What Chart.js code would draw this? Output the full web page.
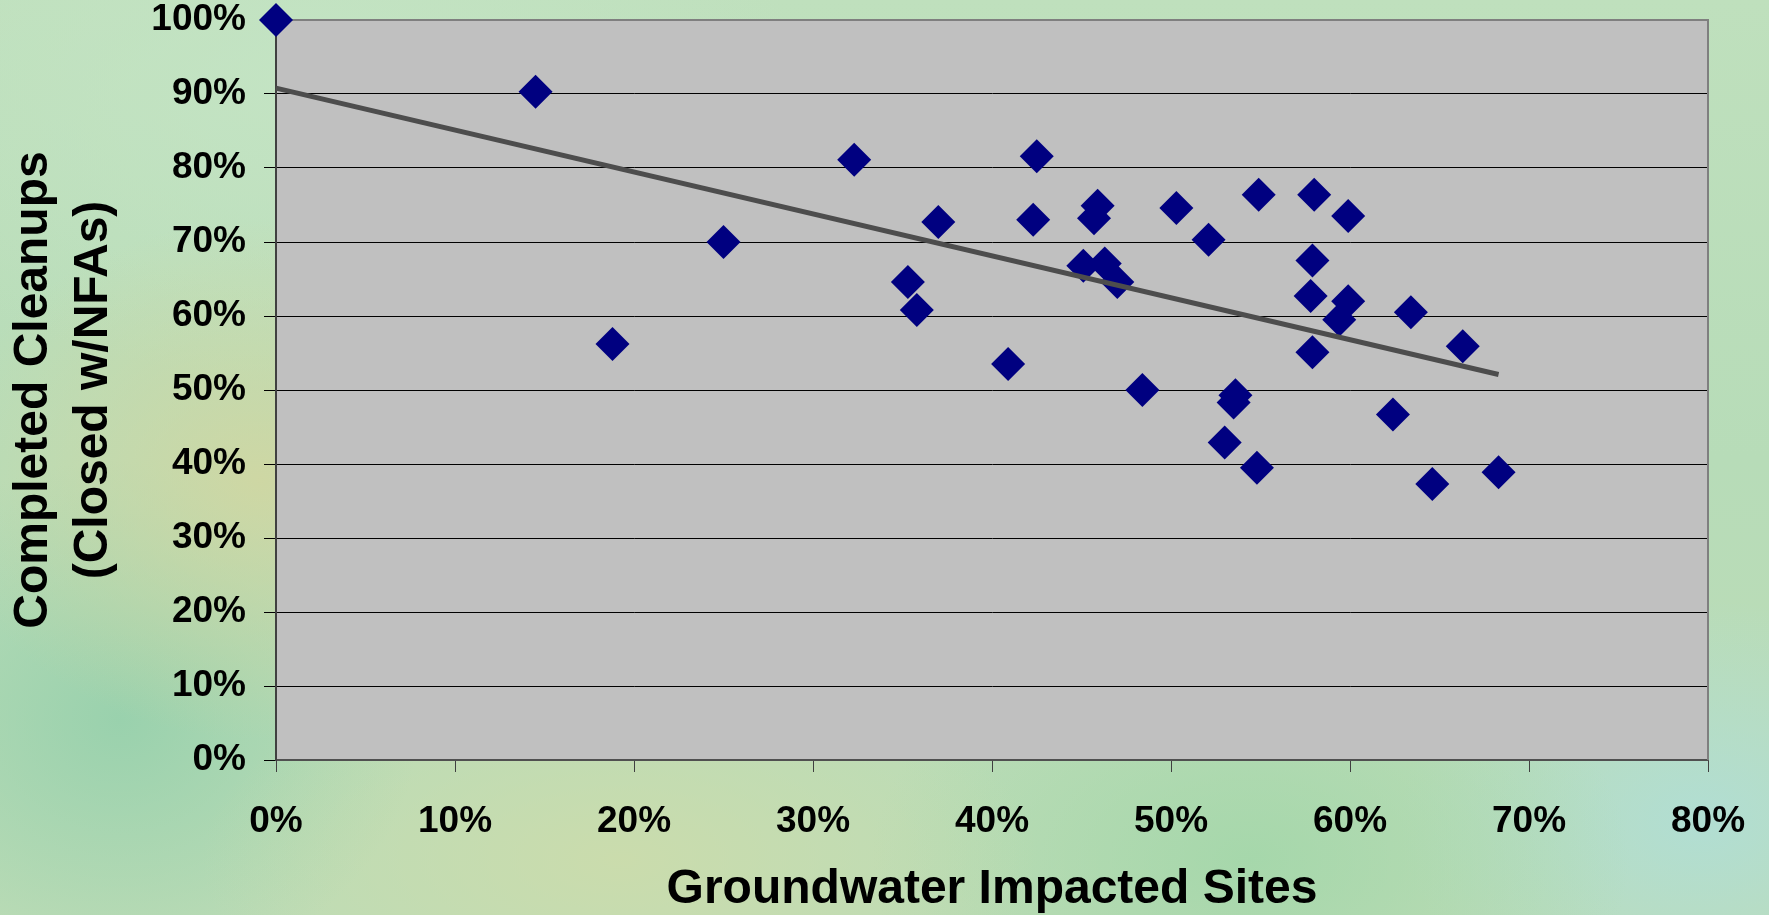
<!DOCTYPE html>
<html>
<head>
<meta charset="utf-8">
<script src="https://cdn.jsdelivr.net/npm/chart.js@4.4.1/dist/chart.umd.min.js"></script>
<style>
  html, body { margin: 0; padding: 0; }
  body {
    width: 1769px; height: 915px; overflow: hidden;
    background:
      radial-gradient(ellipse 320px 260px at 260px 480px, rgba(210,214,160,0.85), rgba(210,214,160,0) 100%),
      radial-gradient(ellipse 420px 200px at 620px 860px, rgba(206,220,170,0.8), rgba(206,220,170,0) 100%),
      radial-gradient(ellipse 300px 260px at 120px 720px, rgba(150,208,172,0.9), rgba(150,208,172,0) 100%),
      radial-gradient(ellipse 380px 240px at 1250px 860px, rgba(160,214,168,0.8), rgba(160,214,168,0) 100%),
      radial-gradient(ellipse 300px 220px at 1700px 820px, rgba(176,222,214,0.9), rgba(176,222,214,0) 100%),
      radial-gradient(ellipse 500px 300px at 300px 80px, rgba(196,228,196,0.9), rgba(196,228,196,0) 100%),
      linear-gradient(180deg, #bfe0bd 0%, #b7dcb8 50%, #bddcb6 100%);
  }
  #wrap { position: absolute; left: 0; top: 0; width: 1769px; height: 915px; }
</style>
</head>
<body>
<div id="wrap"><canvas id="c" width="1769" height="915"></canvas></div>
<script>
// Groundwater impacted sites (%) vs completed cleanups (%)
const groundwaterPct = [0, 14.5, 18.8, 25.0, 32.3, 35.3, 35.8, 37.0, 40.9, 42.5, 42.3, 45.1, 45.7, 45.9, 46.3, 47.0, 48.4, 50.3, 52.1, 53.0, 53.5, 53.6, 54.8, 54.9, 57.8, 57.9, 57.9, 58.0, 59.4, 59.9, 59.9, 62.4, 63.4, 64.6, 66.3, 68.3];
const cleanupPct     = [100, 90.3, 56.2, 70.0, 81.1, 64.6, 60.8, 72.7, 53.5, 81.6, 73.0, 66.8, 73.2, 74.9, 67.1, 64.6, 50.0, 74.6, 70.3, 42.9, 48.3, 49.3, 39.5, 76.4, 62.7, 67.5, 55.1, 76.4, 59.5, 62.0, 73.5, 46.7, 60.5, 37.3, 55.9, 38.9];
// Linear trend line endpoints
const trendX = [0, 68.3];
const trendY = [90.8, 52.1];
// Axis tick settings
const xTicks = [0, 10, 20, 30, 40, 50, 60, 70, 80];
const yTicks = [0, 10, 20, 30, 40, 50, 60, 70, 80, 90, 100];

const points = groundwaterPct.map((x, i) => ({ x: x, y: cleanupPct[i] }));
const trend = trendX.map((x, i) => ({ x: x, y: trendY[i] }));

const plotBg = {
  id: 'plotBg',
  beforeDraw(chart) {
    const { ctx, chartArea: a } = chart;
    ctx.save();
    ctx.fillStyle = '#c0c0c0';
    ctx.fillRect(a.left, a.top, a.right - a.left, a.bottom - a.top);
    ctx.restore();
  },
  beforeDatasetsDraw(chart) {
    const { ctx, chartArea: a } = chart;
    ctx.save();
    ctx.strokeStyle = '#7f7f7f';
    ctx.lineWidth = 2;
    ctx.beginPath();
    ctx.moveTo(a.left, a.top);
    ctx.lineTo(a.right, a.top);
    ctx.lineTo(a.right, a.bottom);
    ctx.stroke();
    ctx.restore();
  }
};

const FONT = "'Liberation Sans', Arial, sans-serif";

new Chart(document.getElementById('c'), {
  type: 'scatter',
  data: {
    datasets: [
      {
        label: 'Trend',
        data: trend,
        showLine: true,
        borderColor: '#4d4d4d',
        borderWidth: 5,
        pointRadius: 0,
        pointHoverRadius: 0,
        order: 0,
        clip: false
      },
      {
        label: 'Sites',
        data: points,
        pointStyle: 'rectRot',
        pointRadius: 17,
        pointHoverRadius: 17,
        backgroundColor: '#000080',
        borderColor: '#000080',
        borderWidth: 0,
        order: 1,
        clip: false
      }
    ]
  },
  options: {
    responsive: false,
    animation: false,
    devicePixelRatio: 1,
    layout: { autoPadding: false, padding: 0 },
    plugins: {
      legend: { display: false },
      tooltip: { enabled: false }
    },
    scales: {
      x: {
        type: 'linear',
        min: 0, max: 80,
        afterBuildTicks: (s) => { s.ticks = xTicks.map(v => ({ value: v })); },
        afterFit: (s) => { s.height = 155; s.paddingLeft = 0; s.paddingRight = 61; },
        ticks: {
          color: '#000',
          font: { family: FONT, size: 37, weight: 'bold' },
          padding: 28,
          maxRotation: 0,
          callback: (v) => v + '%'
        },
        grid: {
          display: true,
          drawOnChartArea: false,
          drawTicks: true,
          tickLength: 12,
          color: '#404040',
          lineWidth: 1
        },
        border: { display: true, color: '#505050', width: 2 },
        title: {
          display: true,
          text: 'Groundwater Impacted Sites',
          color: '#000',
          font: { family: FONT, size: 48, weight: 'bold', lineHeight: 1 },
          padding: { top: 0, bottom: 1 }
        }
      },
      y: {
        type: 'linear',
        min: 0, max: 100,
        afterBuildTicks: (s) => { s.ticks = yTicks.map(v => ({ value: v })); },
        afterFit: (s) => { s.width = 276; s.paddingTop = 20; s.paddingBottom = 0; },
        ticks: {
          color: '#000',
          font: { family: FONT, size: 37, weight: 'bold' },
          padding: 18,
          callback: (v) => v + '%'
        },
        grid: {
          display: true,
          drawTicks: true,
          tickLength: 12,
          color: (c) => (c.tick && c.tick.value === 100 ? '#7f7f7f' : (c.tick && c.tick.value === 0 ? 'rgba(0,0,0,0)' : '#000')),
          tickColor: '#000',
          lineWidth: 1
        },
        border: { display: true, color: '#404040', width: 2 },
        title: {
          display: true,
          text: ['Completed Cleanups', '(Closed w/NFAs)'],
          color: '#000',
          font: { family: FONT, size: 48, weight: 'bold', lineHeight: 1.25 },
          padding: { top: 4, bottom: 0 }
        }
      }
    }
  },
  plugins: [plotBg]
});
</script>
</body>
</html>
